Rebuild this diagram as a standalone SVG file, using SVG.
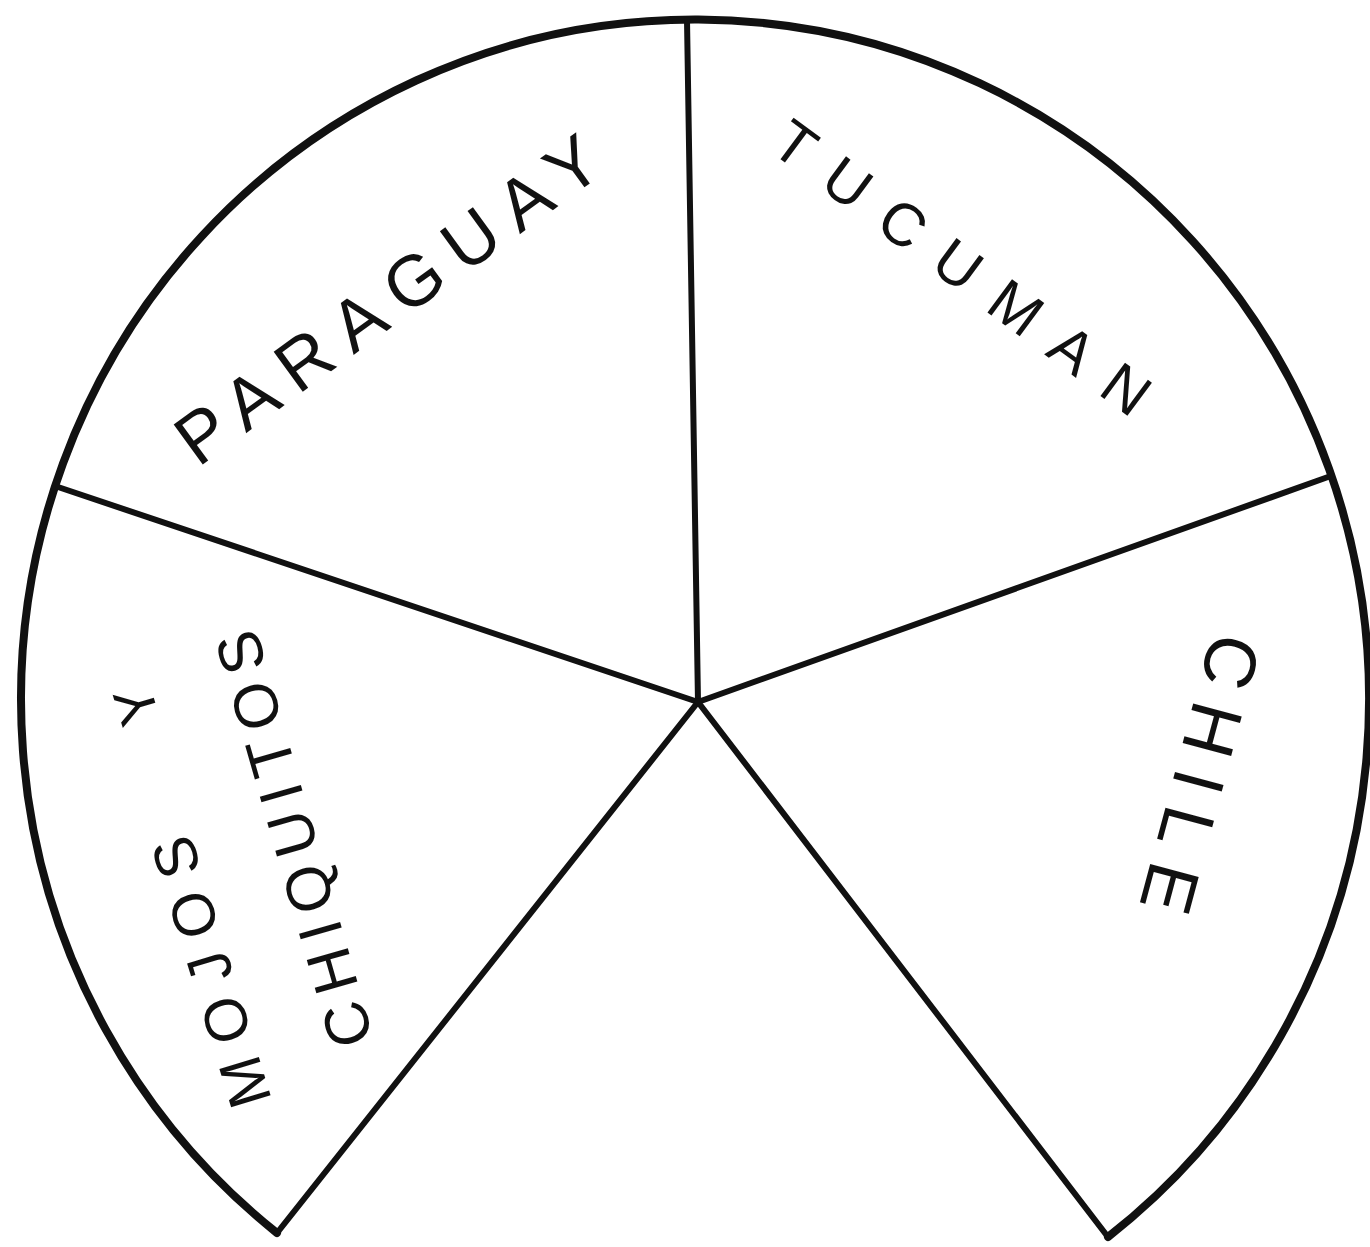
<svg xmlns="http://www.w3.org/2000/svg" width="1370" height="1247" viewBox="0 0 1370 1247">
<style>
.rim{fill:none;stroke:#111;stroke-width:8;stroke-linecap:round;stroke-linejoin:round}
.rad{fill:none;stroke:#111;stroke-width:6;stroke-linecap:round}
.lbl{font-family:"Liberation Sans","DejaVu Sans",Arial,sans-serif;fill:#111;font-weight:normal}
</style>
<rect width="1370" height="1247" fill="#fff"/>
<g id="rim">
<path class="rim" d="M 277 1233 A 674 680 0 1 1 1108 1237"/>
</g>
<g id="connectors">
<line class="rad" x1="698" y1="702" x2="687" y2="20"/>
<line class="rad" x1="698" y1="702" x2="58" y2="487"/>
<line class="rad" x1="698" y1="702" x2="1328" y2="477"/>
<line class="rad" x1="698" y1="702" x2="277" y2="1233"/>
<line class="rad" x1="698" y1="702" x2="1108" y2="1237"/>
</g>
<g id="paraguay">
<text class="lbl" font-size="72" transform="translate(198,468) rotate(-36)" textLength="505" lengthAdjust="spacing">PARAGUAY</text>
</g>
<g id="tucuman">
<text class="lbl" font-size="60" transform="translate(768,150) rotate(36.5)" textLength="452" lengthAdjust="spacing">TUCUMAN</text>
</g>
<g id="chile">
<text class="lbl" font-size="73" transform="translate(1213,630) rotate(105)" textLength="285" lengthAdjust="spacing">CHILE</text>
</g>
<g id="mojos">
<text class="lbl" font-size="60" transform="translate(272,1100) rotate(-107)" textLength="280" lengthAdjust="spacing">MOJOS</text>
<text class="lbl" font-size="56" transform="translate(160,718) rotate(-107)">Y</text>
</g>
<g id="chiquitos">
<text class="lbl" font-size="62" transform="translate(374,1040) rotate(-106)" textLength="430" lengthAdjust="spacing">CHIQUITOS</text>
</g>
</svg>
